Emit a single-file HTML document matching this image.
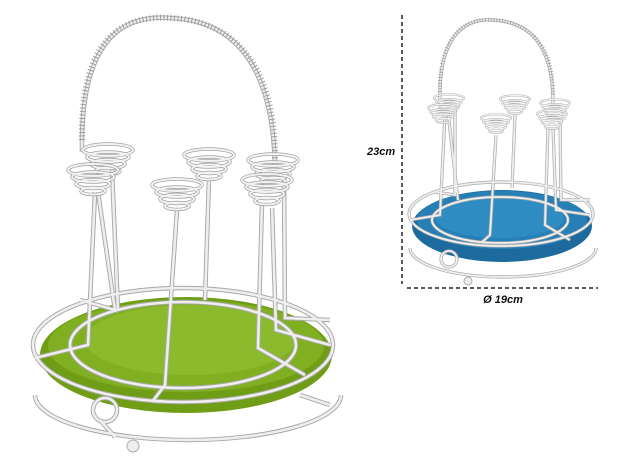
<!DOCTYPE html>
<html><head><meta charset="utf-8"><style>
html,body{margin:0;padding:0;background:#fff;width:625px;height:470px;overflow:hidden}
svg{display:block}
text{font-family:"Liberation Sans",sans-serif;font-weight:bold;font-style:italic;fill:#111}
</style></head><body>
<svg width="625" height="470" viewBox="0 0 625 470" xmlns="http://www.w3.org/2000/svg">
<defs>
<g id="cup">
 <g fill="none" stroke="#a0a0a0" stroke-width="3.4">
  <ellipse cx="0" cy="0" rx="25" ry="6"/><ellipse cx="0" cy="7" rx="21" ry="5"/>
  <ellipse cx="0" cy="14" rx="17" ry="4.5"/><ellipse cx="0" cy="21" rx="12" ry="3.5"/>
 </g>
 <g fill="none" stroke="#f2f2f2" stroke-width="2">
  <ellipse cx="0" cy="0" rx="25" ry="6"/><ellipse cx="0" cy="7" rx="21" ry="5"/>
  <ellipse cx="0" cy="14" rx="17" ry="4.5"/><ellipse cx="0" cy="21" rx="12" ry="3.5"/>
 </g>
</g>
<g id="wL">
 <ellipse cx="183" cy="345" rx="150" ry="57"/>
 <path d="M35 395 A153 45 0 0 0 341 395"/>
 <ellipse cx="183" cy="345" rx="113" ry="43"/>
 <path d="M95 192 L88 345 L35 358 M98 192 L115 310 L80 300 M112 170 L118 310 M177 210 L165 385 L152 402 M209 178 L205 300 M262 203 L258 348 L305 375 M272 208 L276 330 L330 345 M284 180 L285 318 L330 320"/>
 <path d="M82 152 C80 30 130 15 170 18 C230 20 275 60 275 175"/>
 <circle cx="105" cy="410" r="12"/>
 <path d="M100 420 L115 437 M300 395 L330 405"/>
</g>
<g id="wR">
 <ellipse cx="501" cy="214" rx="92" ry="32"/>
 <path d="M410 248 A93 29 0 0 0 596 248"/>
 <ellipse cx="500" cy="220" rx="68" ry="23"/>
 <path d="M445 115 L440 215 L410 220 M448 112 L458 200 M455 112 L455 195 L435 192 M496 135 L490 235 L482 242 M515 115 L512 188 M548 128 L545 225 L570 240 M553 128 L556 210 L590 215 M560 118 L561 200 L590 200"/>
 <path d="M440 102 C438 30 470 18 493 20 C530 22 553 45 553 103"/>
 <circle cx="449" cy="259" r="8"/>
</g>
</defs>

<!-- left tray -->
<ellipse cx="186" cy="355" rx="146" ry="58" fill="#6f9e16"/>
<ellipse cx="186" cy="346" rx="138" ry="46" fill="#80b022"/>
<ellipse cx="190" cy="340" rx="105" ry="35" fill="#8bbb2c"/>
<!-- right tray -->
<ellipse cx="502" cy="226" rx="90" ry="36" fill="#1d6b9e"/>
<ellipse cx="502" cy="220" rx="85" ry="29" fill="#2680b6"/>
<ellipse cx="500" cy="218" rx="64" ry="20" fill="#2f8cc2"/>

<use href="#wL" fill="none" stroke="#a8a8a8" stroke-width="4.5"/>
<use href="#wL" fill="none" stroke="#eeeeee" stroke-width="2.6"/>
<path d="M82 140 C80 30 130 15 170 18 C230 20 275 60 275 160" fill="none" stroke="#9c9c9c" stroke-width="6" stroke-dasharray="1 2.5"/>
<circle cx="133" cy="446" r="6" fill="#eee" stroke="#aaa"/>
<use href="#wR" fill="none" stroke="#a8a8a8" stroke-width="3.2"/>
<use href="#wR" fill="none" stroke="#eeeeee" stroke-width="1.8"/>
<path d="M440 95 C438 30 470 18 493 20 C530 22 553 45 553 95" fill="none" stroke="#9c9c9c" stroke-width="4" stroke-dasharray="0.8 2"/>
<circle cx="468" cy="281" r="4" fill="#eee" stroke="#aaa"/>

<use href="#cup" transform="translate(108,150)"/>
<use href="#cup" transform="translate(93,170)"/>
<use href="#cup" transform="translate(177,185)"/>
<use href="#cup" transform="translate(209,155)"/>
<use href="#cup" transform="translate(273,160)"/>
<use href="#cup" transform="translate(267,180)"/>

<use href="#cup" transform="translate(449,98) scale(0.6)"/>
<use href="#cup" transform="translate(443,108) scale(0.6)"/>
<use href="#cup" transform="translate(496,118) scale(0.6)"/>
<use href="#cup" transform="translate(515,99) scale(0.6)"/>
<use href="#cup" transform="translate(555,103) scale(0.6)"/>
<use href="#cup" transform="translate(552,114) scale(0.6)"/>

<line x1="402" y1="15" x2="402" y2="284" stroke="#222" stroke-width="1.5" stroke-dasharray="4 3"/>
<line x1="407" y1="288" x2="598" y2="288" stroke="#222" stroke-width="1.5" stroke-dasharray="4 3"/>
<text x="367" y="155" font-size="11">23cm</text>
<text x="503" y="303" font-size="11" text-anchor="middle">Ø 19cm</text>
</svg>
</body></html>
